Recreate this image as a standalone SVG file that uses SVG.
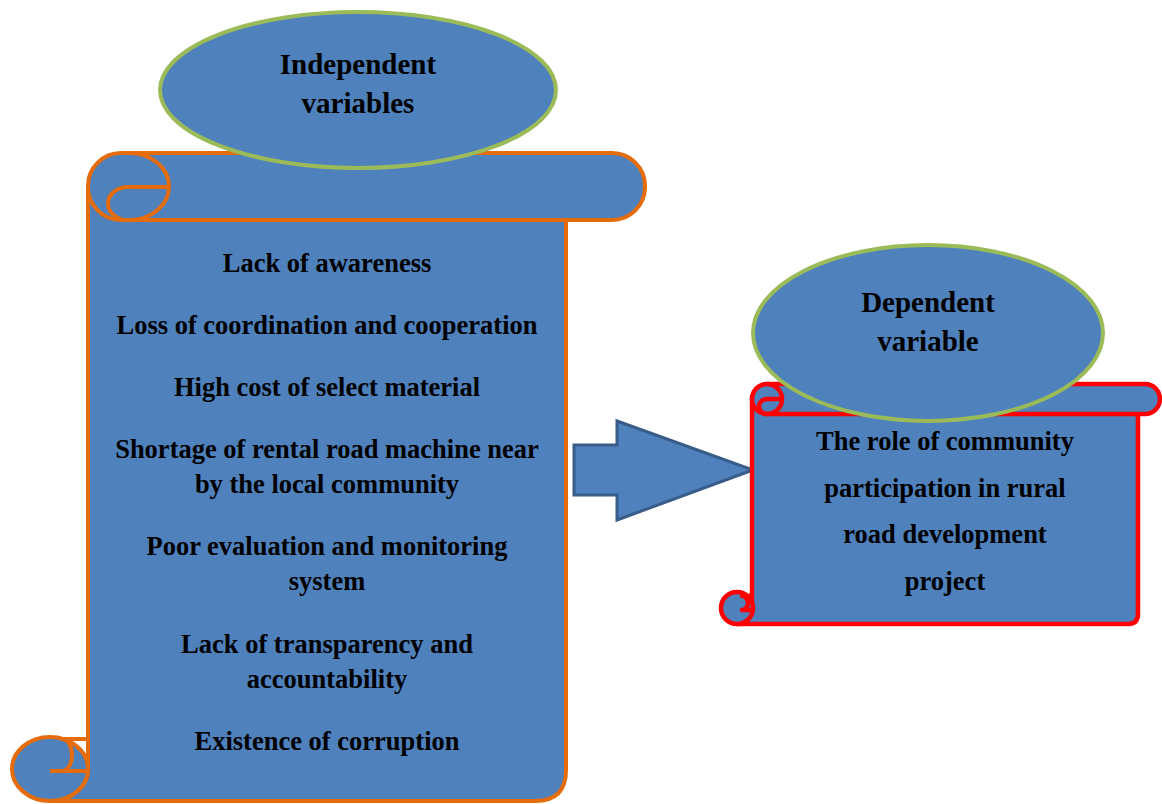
<svg xmlns="http://www.w3.org/2000/svg" width="1162" height="804" viewBox="0 0 1162 804">
<style>
.fill{fill:#4F81BD}
.ls{stroke:#E46C0A;stroke-width:4;stroke-linejoin:round}
.rs{stroke:#FF0000;stroke-width:4.5;stroke-linejoin:round}
.ell{fill:#4F81BD;stroke:#9BBB59;stroke-width:4}
.ln{fill:none}
text{font-family:"Liberation Serif","Times New Roman",serif;font-weight:bold;fill:#000;text-anchor:middle}
.t{font-size:26.5px}
.h{font-size:29px}
</style>
<rect width="1162" height="804" fill="#fff"/>
<g id="connectors">
<path d="M574 445 H617 V421 L753 470 L617 520 V495 H574 Z" fill="#4F81BD" stroke="#385D8A" stroke-width="3" stroke-linejoin="miter"/>
</g>
<g id="independent-scroll">
<path class="fill ls" d="M88 186 V769 A38 32 0 0 1 50 801 H535 Q566 801 566 770 V220 Z"/>
<ellipse class="fill ls" cx="50" cy="769" rx="38" ry="32"/>
<path class="ln ls" d="M88 739 H62 A10 16 0 0 1 62 771 M50 771 H88"/>
<rect class="fill ls" x="88" y="153" width="557" height="67" rx="33" ry="33"/>
<path class="ln ls" d="M129 153 A40 33.5 0 0 1 129 220 M127 187 H169 M127 187 A20 16.5 0 0 0 129 220"/>
<text class="t" x="327" y="272">Lack of awareness</text>
<text class="t" x="327" y="334">Loss of coordination and cooperation</text>
<text class="t" x="327" y="396">High cost of select material</text>
<text class="t" x="327" y="458">Shortage of rental road machine near</text>
<text class="t" x="327" y="493">by the local community</text>
<text class="t" x="327" y="555">Poor evaluation and monitoring</text>
<text class="t" x="327" y="590">system</text>
<text class="t" x="327" y="653">Lack of transparency and</text>
<text class="t" x="327" y="688">accountability</text>
<text class="t" x="327" y="750">Existence of corruption</text>
</g>
<g id="independent-label">
<ellipse class="ell" cx="358" cy="90" rx="198" ry="78"/>
<text class="h" x="358" y="74">Independent</text>
<text class="h" x="358" y="113">variables</text>
</g>
<g id="dependent-scroll">
<path class="fill rs" d="M752 399 V609 A15 16 0 0 1 737 624 H1128 Q1138 624 1138 614 V414 Z"/>
<circle class="fill rs" cx="737" cy="608" r="16"/>
<path class="ln rs" d="M752 596 H742 A6 7 0 0 1 742 610 H752"/>
<rect class="fill rs" x="752" y="384" width="408" height="30" rx="15" ry="15"/>
<path class="ln rs" d="M767 384 A15 15 0 0 1 767 414 M767 399 H782 M767 399 A8 7.5 0 0 0 767 414"/>
<text class="t" x="945" y="450">The role of community</text>
<text class="t" x="945" y="497">participation in rural</text>
<text class="t" x="945" y="543">road development</text>
<text class="t" x="945" y="590">project</text>
</g>
<g id="dependent-label">
<ellipse class="ell" cx="928" cy="333" rx="175" ry="88"/>
<text class="h" x="928" y="312">Dependent</text>
<text class="h" x="928" y="351">variable</text>
</g>
</svg>
